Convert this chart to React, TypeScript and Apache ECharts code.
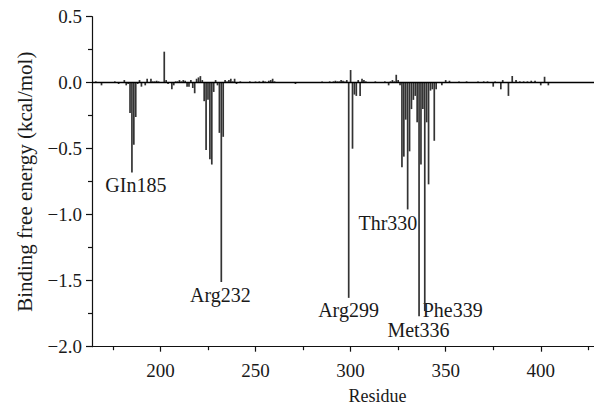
import React, { useEffect, useRef } from 'react';
import * as echarts from 'echarts';

// Per-residue binding free energy decomposition (kcal/mol)
const residues = [
  166, 169, 172, 176, 178, 181, 182, 183, 184, 185,
  186, 187, 188, 189, 190, 192, 193, 195, 196, 197,
  198, 199, 200, 202, 203, 204, 206, 207, 208, 209,
  210, 211, 212, 213, 214, 215, 216, 217, 218, 219,
  220, 221, 222, 223, 224, 225, 226, 227, 228, 229,
  230, 231, 232, 233, 234, 235, 236, 237, 238, 239,
  240, 242, 244, 247, 250, 252, 254, 255, 257, 258,
  259, 260, 263, 271, 276, 283, 285, 287, 289, 291,
  292, 293, 294, 295, 296, 297, 298, 299, 300, 301,
  302, 303, 304, 305, 306, 307, 308, 309, 311, 313,
  316, 318, 320, 321, 322, 323, 324, 325, 326, 327,
  328, 329, 330, 331, 332, 333, 334, 335, 336, 337,
  338, 339, 340, 341, 342, 343, 344, 345, 348, 350,
  352, 357, 361, 367, 370, 372, 375, 376, 379, 380,
  383, 385, 387, 389, 391, 393, 395, 397, 400, 402,
  404, 407, 410, 413, 416, 420,
];
const energies = [
  0.01, -0.02, 0.005, 0.01, -0.01, 0.02, -0.02, -0.01, -0.23, -0.68,
  -0.47, -0.26, -0.01, 0.02, -0.03, -0.02, 0.03, 0.03, 0.01, 0.01,
  0.015, 0.01, 0.005, 0.235, 0.02, -0.01, -0.05, -0.02, 0.01, 0.01,
  0.02, 0.01, 0.02, 0.015, -0.03, -0.03, 0.02, -0.04, -0.08, 0.03,
  0.04, 0.05, 0.02, -0.14, -0.51, -0.13, -0.58, -0.62, -0.07, 0.02,
  -0.02, -0.38, -1.51, -0.41, 0.02, 0.01, 0.02, 0.03, 0.01, 0.03,
  -0.01, 0.01, 0.005, 0.01, 0.01, 0.01, 0.015, 0.01, 0.015, 0.02,
  0.03, 0.01, 0.005, -0.01, 0.005, 0.005, 0.01, 0.005, 0.01, 0.01,
  0.015, 0.01, 0.01, 0.02, 0.015, 0.01, 0.02, -1.63, 0.096, -0.5,
  -0.09, -0.1, 0.02, -0.1, 0.03, 0.02, 0.01, 0.005, 0.005, 0.01,
  0.005, 0.01, -0.02, 0.01, 0.02, 0.01, 0.06, 0.02, -0.02, -0.64,
  -0.56, -0.28, -0.96, -0.52, -0.2, -0.13, -0.1, -0.3, -1.77, -0.62,
  -0.2, -1.73, -0.3, -0.77, -0.06, -0.05, -0.44, -0.05, -0.02, 0.02,
  0.015, 0.01, 0.01, 0.01, 0.01, 0.01, -0.03, 0.01, -0.05, 0.02,
  -0.1, 0.05, 0.02, 0.01, 0.01, 0.01, 0.015, 0.015, -0.02, 0.045,
  -0.02, 0.005, 0.005, 0.005, 0.005, 0.005,
];

const xMajorTicks = [200, 250, 300, 350, 400];
const xMinorTicks = [175, 225, 275, 325, 375, 425];

// Annotation labels (text centre in data coordinates)
const labelTexts = ['GIn185', 'Arg232', 'Arg299', 'Thr330', 'Phe339', 'Met336'];
const labelResidues = [187.05, 231.5, 298.9, 319.6, 353.7, 335.7];
const labelEnergies = [-0.775, -1.608, -1.722, -1.063, -1.72, -1.871];

const FONT = "'Liberation Serif', 'Times New Roman', 'DejaVu Serif', serif";

export default function App() {
  const ref = useRef<HTMLDivElement>(null);

  useEffect(() => {
    document.body.style.margin = '0';
    if (!ref.current) return;
    const chart = echarts.init(ref.current, null, { renderer: 'svg' });

    chart.setOption({
      animation: false,
      backgroundColor: '#ffffff',
      grid: { left: 92, right: 0, top: 16.7, bottom: 70.3, containLabel: false },
      xAxis: [
        {
          type: 'value',
          min: 164,
          max: 428,
          position: 'bottom',
          axisLine: { show: true, onZero: false, lineStyle: { color: '#111', width: 1.2 } },
          axisTick: { show: true, inside: false, length: 5, customValues: xMajorTicks, lineStyle: { color: '#111', width: 1.2 } },
          axisLabel: {
            show: true,
            customValues: xMajorTicks,
            fontSize: 19,
            fontFamily: FONT,
            color: '#1a1a1a',
            margin: 14,
          },
          splitLine: { show: false },
          name: 'Residue',
          nameLocation: 'middle',
          nameGap: 40,
          nameTextStyle: { fontSize: 18, fontFamily: FONT, color: '#1a1a1a', padding: [0, 0, 0, 69] },
        },
        {
          type: 'value',
          min: 164,
          max: 428,
          position: 'bottom',
          axisLine: { show: false, onZero: false },
          axisTick: { show: true, inside: false, length: 3.5, customValues: xMinorTicks, lineStyle: { color: '#111', width: 1.2 } },
          axisLabel: { show: false },
          splitLine: { show: false },
        },
      ],
      yAxis: {
        type: 'value',
        min: -2,
        max: 0.5,
        interval: 0.5,
        axisLine: { show: true, lineStyle: { color: '#111', width: 1.2 } },
        axisTick: { show: true, inside: false, length: 6, lineStyle: { color: '#111', width: 1.2 } },
        minorTick: { show: true, splitNumber: 2, length: 4, lineStyle: { color: '#111', width: 1.2 } },
        axisLabel: {
          fontSize: 19,
          fontFamily: FONT,
          color: '#1a1a1a',
          margin: 10,
          formatter: (v: number) => v.toFixed(1).replace('-', '\u2212'),
        },
        splitLine: { show: false },
        name: 'Binding free energy (kcal/mol)',
        nameLocation: 'middle',
        nameGap: 57,
        nameTextStyle: { fontSize: 21, fontFamily: FONT, color: '#1a1a1a' },
      },
      series: [
        {
          type: 'bar',
          xAxisIndex: 0,
          yAxisIndex: 0,
          barWidth: 1.7,
          itemStyle: { color: '#333333' },
          data: residues.map((r, i) => [r, energies[i]]),
          markLine: {
            silent: true,
            symbol: 'none',
            label: { show: false },
            lineStyle: { color: '#000', width: 1.4, type: 'solid' },
            data: [{ yAxis: 0 }],
          },
        },
      ],
    });

    const graphic = labelTexts.map((t, i) => {
      const p = chart.convertToPixel({ seriesIndex: 0 }, [labelResidues[i], labelEnergies[i]]) as number[];
      return {
        type: 'text',
        x: p[0],
        y: p[1],
        style: {
          text: t,
          fontSize: 20,
          lineHeight: 15,
          fontFamily: FONT,
          fill: '#1a1a1a',
          align: 'center',
          verticalAlign: 'middle',
        },
      };
    });
    chart.setOption({ graphic });

    return () => {
      chart.dispose();
    };
  }, []);

  return <div ref={ref} style={{ width: 594, height: 417 }} />;
}
